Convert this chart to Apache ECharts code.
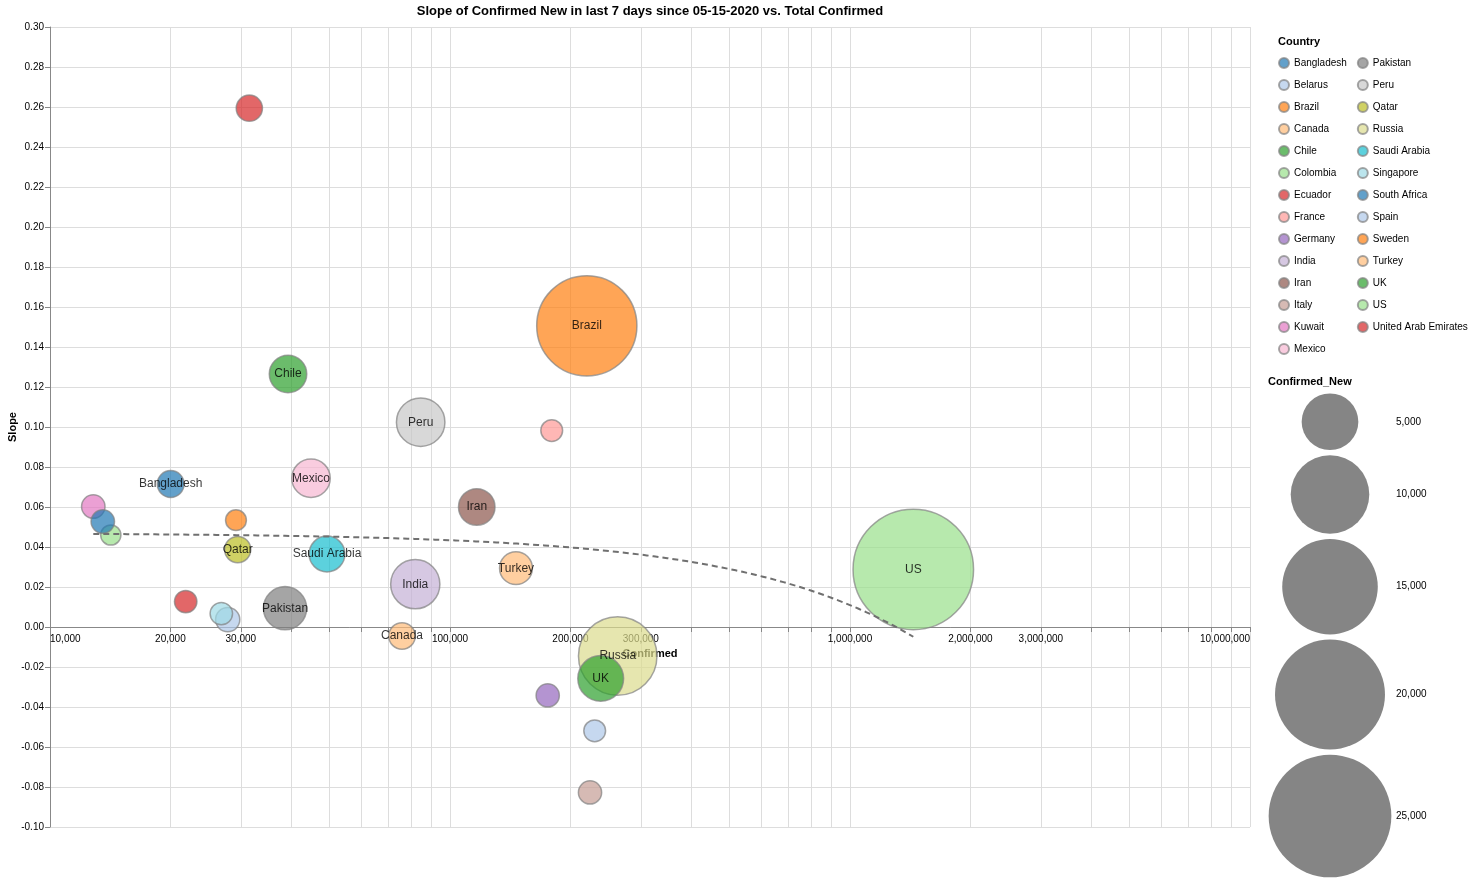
<!DOCTYPE html>
<html><head><meta charset="utf-8">
<script src="https://cdn.jsdelivr.net/npm/echarts@6/dist/echarts.min.js"></script>
<style>html,body{margin:0;padding:0;background:#fff}#c{width:1484px;height:886px}</style>
</head><body><div id="c"></div>
<script>
// ---- data ----
const countries = ['Bangladesh','Belarus','Brazil','Canada','Chile','Colombia','Ecuador','France','Germany','India','Iran','Italy','Kuwait','Mexico','Pakistan','Peru','Qatar','Russia','Saudi Arabia','Singapore','South Africa','Spain','Sweden','Turkey','UK','US','United Arab Emirates'];
const confirmed = [20030, 27810, 219800, 75860, 39360, 14190, 31500, 179600, 175500, 81880, 116650, 223900, 12830, 44930, 38690, 84470, 29460, 262600, 49260, 26810, 13550, 230000, 29170, 146200, 238100, 1439600, 21840];
const slope = [0.0715, 0.0037, 0.1506, -0.0045, 0.1265, 0.046, 0.2594, 0.0982, -0.0342, 0.0214, 0.060, -0.0827, 0.0602, 0.0744, 0.0094, 0.1024, 0.0387, -0.0145, 0.0365, 0.0067, 0.0527, -0.0519, 0.0534, 0.0294, -0.0257, 0.0288, 0.0127];
const confirmedNew = [780, 560, 16530, 760, 1940, 260, 730, 370, 480, 3660, 1820, 480, 500, 2070, 2720, 3540, 730, 9980, 1730, 420, 500, 370, 300, 1390, 3110, 24100, 420];
const labelled = ['Bangladesh','Brazil','Canada','Chile','India','Iran','Mexico','Pakistan','Peru','Qatar','Russia','Saudi Arabia','Turkey','UK','US'];
const xTickValues = [10000,20000,30000,40000,50000,60000,70000,80000,90000,
  100000,200000,300000,400000,500000,600000,700000,800000,900000,
  1000000,2000000,3000000,4000000,5000000,6000000,7000000,8000000,9000000,10000000];
const xLabelValues = [10000,20000,30000,100000,200000,300000,1000000,2000000,3000000,10000000];
const sizeLegendValues = [5000,10000,15000,20000,25000];
const titleText = 'Slope of Confirmed New in last 7 days since 05-15-2020 vs. Total Confirmed';

const palette = ['#1f77b4','#aec7e8','#ff7f0e','#ffbb78','#2ca02c','#98df8a','#d62728','#ff9896','#9467bd','#c5b0d5',
  '#8c564b','#c49c94','#e377c2','#f7b6d2','#7f7f7f','#c7c7c7','#bcbd22','#dbdb8d','#17becf','#9edae5'];
const FONT = '"Liberation Sans", Arial, Helvetica, sans-serif';

function diam(v){ return Math.sqrt(255 + 0.592 * v); }

// linear regression of slope on confirmed
const n = confirmed.length;
const mx = confirmed.reduce((a,b)=>a+b,0)/n;
const my = slope.reduce((a,b)=>a+b,0)/n;
let sxy=0, sxx=0;
for (let i=0;i<n;i++){ sxy += (confirmed[i]-mx)*(slope[i]-my); sxx += (confirmed[i]-mx)*(confirmed[i]-mx); }
const rb = sxy/sxx, ra = my - rb*mx;
const xmin = Math.min(...confirmed), xmax = Math.max(...confirmed);
const regPts = [];
for (let k=0;k<=120;k++){
  const x = Math.pow(10, Math.log10(xmin) + (Math.log10(xmax)-Math.log10(xmin))*k/120);
  regPts.push([x, ra + rb*x]);
}

const series = countries.map((c,i)=>({
  name: c, type: 'scatter',
  data: [[confirmed[i], slope[i], confirmedNew[i]]],
  symbolSize: v => diam(v[2]),
  itemStyle: { color: palette[i % 20], borderColor: '#808080', borderWidth: 1.5, opacity: 0.7 },
  emphasis: { disabled: true }, z: 3
}));
series.push({
  type: 'line', name: 'trend', data: regPts, showSymbol: false, silent: true, z: 5,
  lineStyle: { color: '#707070', width: 2, type: [6, 4] }, emphasis: { disabled: true }
});
series.push({
  type: 'scatter', name: 'labels', silent: true, z: 10,
  data: countries.map((c,i)=> labelled.includes(c) ? { name: c, value: [confirmed[i], slope[i]] } : null).filter(d=>d),
  symbolSize: 1, itemStyle: { color: 'rgba(0,0,0,0)' },
  label: { show: true, position: 'inside', formatter: '{b}', color: '#000', fontSize: 12, fontFamily: FONT },
  emphasis: { disabled: true }
});

// size legend graphics
const graphics = [
  { type: 'text', x: 650, y: 11, style: { text: titleText, align: 'center', verticalAlign: 'middle', font: 'bold 13px ' + FONT, fill: '#000' } },
  { type: 'text', x: 1278, y: 42, style: { text: 'Country', align: 'left', verticalAlign: 'middle', font: 'bold 11px ' + FONT, fill: '#000' } },
  { type: 'text', x: 1268, y: 382, style: { text: 'Confirmed_New', align: 'left', verticalAlign: 'middle', font: 'bold 11px ' + FONT, fill: '#000' } }
];
let legTop = 393.4;
sizeLegendValues.forEach(v => {
  const d = diam(v);
  const cy = legTop + d/2;
  graphics.push({ type: 'circle', shape: { cx: 1330, cy: cy, r: d/2 }, style: { fill: '#858585' } });
  graphics.push({ type: 'text', x: 1396, y: cy, style: { text: v.toLocaleString('en-US'), align: 'left', verticalAlign: 'middle', font: '10px ' + FONT, fill: '#000' } });
  legTop += d + 5.1;
});

const option = {
  animation: false,
  backgroundColor: '#fff',
  textStyle: { fontFamily: FONT },
  grid: { left: 50, right: 234, top: 27, bottom: 59, containLabel: false, outerBoundsMode: 'none' },
  xAxis: {
    type: 'log', logBase: 10, min: 10000, max: 10000000,
    position: 'bottom', offset: -200,
    name: 'Confirmed', nameLocation: 'middle', nameGap: 21, nameMoveOverlap: false,
    nameTextStyle: { fontWeight: 'bold', fontSize: 11, color: '#000', fontFamily: FONT },
    axisLine: { onZero: false, lineStyle: { color: '#888', width: 1 } },
    axisTick: { customValues: xTickValues, length: 5, lineStyle: { color: '#888' } },
    axisLabel: { customValues: xLabelValues, formatter: v => Number(v).toLocaleString('en-US'), fontSize: 10, color: '#000', margin: 7, fontFamily: FONT, alignMinLabel: 'left', alignMaxLabel: 'right' },
    splitLine: { show: true, lineStyle: { color: '#ddd', width: 1 } }
  },
  yAxis: {
    type: 'value', min: -0.1, max: 0.3, interval: 0.02,
    name: 'Slope', nameLocation: 'middle', nameRotate: 90, nameGap: 32, nameMoveOverlap: false,
    nameTextStyle: { fontWeight: 'bold', fontSize: 11, color: '#000', fontFamily: FONT },
    axisLine: { show: true, lineStyle: { color: '#888', width: 1 } },
    axisTick: { show: true, length: 5, lineStyle: { color: '#888' } },
    axisLabel: { formatter: v => v.toFixed(2), fontSize: 10, color: '#000', margin: 6, fontFamily: FONT },
    splitLine: { show: true, lineStyle: { color: '#ddd', width: 1 } }
  },
  legend: {
    data: countries, orient: 'vertical', left: 1278, top: 57, height: 300,
    itemWidth: 10, itemHeight: 10, itemGap: 10, icon: 'circle', selectedMode: false,
    textStyle: { fontSize: 10, color: '#000', fontFamily: FONT },
    padding: 0
  },
  graphic: graphics,
  series: series
};
const chart = echarts.init(document.getElementById('c'), null, { renderer: 'canvas' });
chart.setOption(option);
</script>
</body></html>
